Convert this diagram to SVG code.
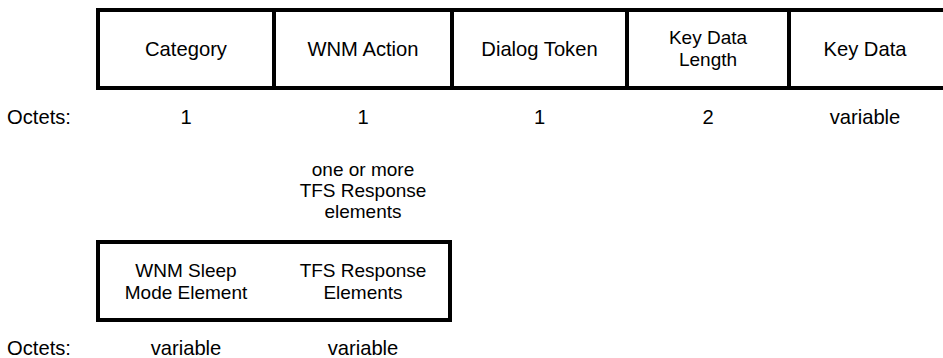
<svg xmlns="http://www.w3.org/2000/svg" width="943" height="358" viewBox="0 0 943 358">
<style>
text{font-family:"Liberation Sans",Arial,sans-serif;font-size:20.2px;fill:#000;text-anchor:middle}
text.m{font-size:19px}
.l{text-anchor:start}
.b{fill:#fff;stroke:#000;stroke-width:4}
.d{stroke:#000;stroke-width:4}
</style>
<rect width="943" height="358" fill="#fff"/>
<g id="top-frame">
<rect class="b" x="98" y="10" width="850" height="78"/>
</g>
<g id="connectors">
<line class="d" x1="274" y1="10" x2="274" y2="88"/>
<line class="d" x1="452" y1="10" x2="452" y2="88"/>
<line class="d" x1="627" y1="10" x2="627" y2="88"/>
<line class="d" x1="789" y1="10" x2="789" y2="88"/>
<line class="d" x1="274" y1="242" x2="274" y2="320"/>
</g>
<g id="category"><text x="186" y="56">Category</text></g>
<g id="wnm-action"><text x="363" y="56">WNM Action</text></g>
<g id="dialog-token"><text x="539.5" y="56">Dialog Token</text></g>
<g id="key-data-length"><text class="m" x="708" y="44.4">Key Data</text><text class="m" x="708" y="65.6">Length</text></g>
<g id="key-data"><text x="865" y="56">Key Data</text></g>
<g id="octets-top">
<text class="l" x="7" y="124">Octets:</text>
<text x="186" y="124">1</text>
<text x="363" y="124">1</text>
<text x="539.5" y="124">1</text>
<text x="708" y="124">2</text>
<text x="865" y="124">variable</text>
</g>
<g id="tfs-note"><text class="m" x="363" y="175.8">one or more</text><text class="m" x="363" y="197">TFS Response</text><text class="m" x="363" y="218.2">elements</text></g>
<g id="bottom-frame"><rect class="b" x="98" y="242" width="352" height="78"/></g>
<g id="wnm-sleep"><text class="m" x="186" y="277.4">WNM Sleep</text><text class="m" x="186" y="298.6">Mode Element</text></g>
<g id="tfs-response"><text class="m" x="363" y="277.4">TFS Response</text><text class="m" x="363" y="298.6">Elements</text></g>
<g id="octets-bottom">
<text class="l" x="7" y="355">Octets:</text>
<text x="186" y="355">variable</text>
<text x="363" y="355">variable</text>
</g>
</svg>
